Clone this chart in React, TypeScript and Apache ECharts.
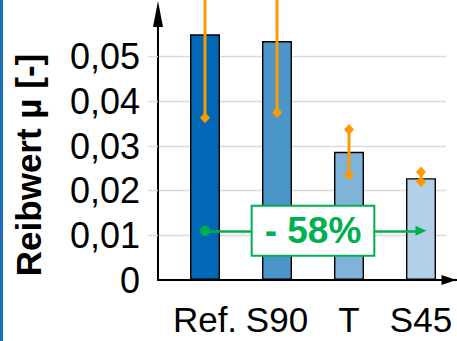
import React, { useEffect, useRef } from 'react';
import * as echarts from 'echarts';

const categories = ['Ref.', 'S90', 'T', 'S45'];
const frictionValues = [0.055, 0.0535, 0.0287, 0.0228];
const errorLow = [0.0363, 0.0375, 0.0235, 0.022];
const errorHigh = [0.074, 0.07, 0.0337, 0.0242];
const yTickValues = [0, 0.01, 0.02, 0.03, 0.04, 0.05];
const yMax = 0.06;
const reductionLabel = '- 58%';
const reductionLevel = 0.011;

const barColors = ['#0068b4', '#4a96c8', '#7fb3da', '#b2d1e9'];
const ORANGE = '#ff9900';
const GREEN = '#00b050';
const FONT = '"Liberation Sans", Arial, Helvetica, sans-serif';

const fmtTick = (v: number) => (v === 0 ? '0' : v.toFixed(2).replace('.', ','));

export default function App() {
  const ref = useRef<HTMLDivElement>(null);
  useEffect(() => {
    if (!ref.current) return;
    const chart = echarts.init(ref.current, null, { renderer: 'svg' });
    const option: any = {
      animation: false,
      backgroundColor: '#ffffff',
      textStyle: { fontFamily: FONT },
      graphic: [
        { type: 'rect', left: 0, top: 0, shape: { x: 0, y: 0, width: 3, height: 341 }, style: { fill: '#1a6fba' } },
      ],
      grid: [
        { left: 158, right: 11, top: 12, bottom: 61 },
        { left: 169, right: 0, top: 12, bottom: 61 },
      ],
      xAxis: [
        {
          gridIndex: 0,
          type: 'category',
          data: categories,
          axisLine: { show: true, lineStyle: { color: '#000', width: 2 } },
          axisTick: { show: false },
          axisLabel: { show: false },
          splitLine: { show: false },
        },
        {
          gridIndex: 1,
          type: 'category',
          data: categories,
          axisLine: {
            show: true,
            lineStyle: { color: '#000', width: 2 },
            symbol: ['none', 'triangle'],
            symbolSize: [10, 15],
            symbolOffset: [0, -8],
          },
          axisTick: { show: false },
          axisLabel: { interval: 0, color: '#000', fontSize: 35, fontFamily: FONT, margin: 22 },
        },
      ],
      yAxis: [
        {
          gridIndex: 0,
          type: 'value',
          min: 0,
          max: yMax,
          interval: 0.01,
          name: 'Reibwert µ [-]',
          nameLocation: 'middle',
          nameGap: 112,
          nameRotate: 90,
          nameTextStyle: { color: '#000', fontSize: 35, fontWeight: 'bold', fontFamily: FONT, padding: [0, 38, 0, 0] },
          axisLine: {
            show: true,
            lineStyle: { color: '#000', width: 2 },
            symbol: ['none', 'triangle'],
            symbolSize: [10, 26],
            symbolOffset: [0, -2],
          },
          axisTick: { show: true, length: 10, lineStyle: { color: '#d9d9d9', width: 1.3 }, customValues: yTickValues.slice(1) },
          axisLabel: {
            color: '#000',
            fontSize: 36,
            fontFamily: FONT,
            margin: 18,
            customValues: yTickValues,
            formatter: (v: number) => fmtTick(v),
            padding: [8, 0, 0, 0],
          },
          splitLine: { show: true, lineStyle: { color: '#d9d9d9', width: 1.3 } },
        },
        {
          gridIndex: 1,
          type: 'value',
          min: 0,
          max: yMax,
          interval: 0.01,
          show: false,
        },
      ],
      series: [
        {
          type: 'bar',
          xAxisIndex: 1,
          yAxisIndex: 1,
          barWidth: 30,
          data: frictionValues.map((v, i) => ({
            value: v,
            itemStyle: { color: barColors[i], borderColor: '#000', borderWidth: 1.4 },
          })),
          z: 2,
        },
        {
          type: 'custom',
          xAxisIndex: 1,
          yAxisIndex: 1,
          z: 3,
          clip: false,
          data: categories.map((c, i) => [i, errorLow[i], errorHigh[i]]),
          encode: { x: 0, y: [1, 2] },
          renderItem: (params: any, api: any) => {
            const idx = api.value(0);
            const lo = api.coord([idx, api.value(1)]);
            const hi = api.coord([idx, api.value(2)]);
            const w = 5;
            const h = 5.5;
            const diamond = (p: number[]) => ({
              type: 'polygon',
              shape: { points: [[p[0], p[1] - h], [p[0] + w, p[1]], [p[0], p[1] + h], [p[0] - w, p[1]]] },
              style: { fill: ORANGE },
            });
            return {
              type: 'group',
              children: [
                { type: 'line', shape: { x1: lo[0], y1: lo[1], x2: hi[0], y2: hi[1] }, style: { stroke: ORANGE, lineWidth: 3 } },
                diamond(lo),
                diamond(hi),
              ],
            };
          },
        },
        {
          type: 'line',
          xAxisIndex: 1,
          yAxisIndex: 1,
          data: [],
          z: 5,
          markLine: {
            silent: true,
            z: 5,
            symbol: ['circle', 'triangle'],
            symbolSize: [10, 11],
            lineStyle: { color: GREEN, width: 2.5, type: 'solid' },
            label: {
              show: true,
              position: 'middle',
              distance: 0,
              verticalAlign: 'middle',
              align: 'center',
              formatter: reductionLabel,
              color: GREEN,
              fontSize: 37,
              fontWeight: 'bold',
              fontFamily: FONT,
              backgroundColor: '#ffffff',
              borderColor: GREEN,
              borderWidth: 2,
              padding: [4, 12, 4, 12],
              lineHeight: 40,
            },
            emphasis: { disabled: true },
            data: [[{ coord: [categories[0], reductionLevel] }, { coord: [categories[3], reductionLevel] }]],
          },
        },
      ],
    };
    chart.setOption(option);
    return () => chart.dispose();
  }, []);
  return <div ref={ref} style={{ position: 'absolute', left: 0, top: 0, width: 457, height: 341 }} />;
}
